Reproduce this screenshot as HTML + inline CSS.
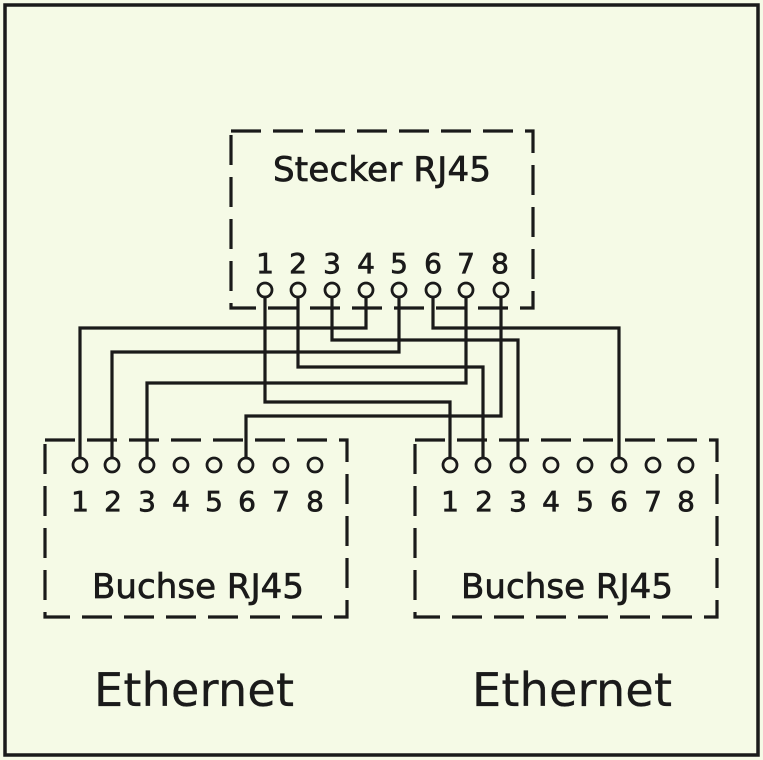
<!DOCTYPE html>
<html><head><style>
html,body{margin:0;padding:0;background:#f5fae6;}
svg{display:block;}
text{font-family:"DejaVu Sans","Liberation Sans",sans-serif;fill:#1a1a1a;stroke:#1a1a1a;stroke-width:0.7;}
</style></head><body>
<svg width="763" height="760" viewBox="0 0 763 760" xmlns="http://www.w3.org/2000/svg">
<rect x="0" y="0" width="763" height="760" fill="#f5fae6"/>
<rect x="5" y="5" width="753" height="750" fill="none" stroke="#1a1a1a" stroke-width="3.5"/>
<g fill="none" stroke="#1a1a1a" stroke-width="3.2" stroke-dasharray="30,12">
<rect x="231" y="131" width="302" height="177"/>
<rect x="45" y="440" width="302" height="177"/>
<rect x="415" y="440" width="302" height="177"/>
</g>
<text x="382" y="181" font-size="34" text-anchor="middle" textLength="218">Stecker RJ45</text>
<text x="198" y="598" font-size="34" text-anchor="middle" textLength="212">Buchse RJ45</text>
<text x="567" y="598" font-size="34" text-anchor="middle" textLength="212">Buchse RJ45</text>
<text x="194" y="706" font-size="46" text-anchor="middle" textLength="200" style="stroke-width:0.3">Ethernet</text>
<text x="572" y="706" font-size="46" text-anchor="middle" textLength="200" style="stroke-width:0.3">Ethernet</text>
<g font-size="28" text-anchor="middle">
<text x="265" y="273">1</text><text x="298" y="273">2</text><text x="332" y="273">3</text><text x="366" y="273">4</text><text x="399" y="273">5</text><text x="433" y="273">6</text><text x="466" y="273">7</text><text x="500" y="273">8</text>
<text x="80" y="511">1</text><text x="113" y="511">2</text><text x="147" y="511">3</text><text x="181" y="511">4</text><text x="214" y="511">5</text><text x="247" y="511">6</text><text x="281" y="511">7</text><text x="315" y="511">8</text>
<text x="450" y="511">1</text><text x="484" y="511">2</text><text x="518" y="511">3</text><text x="551" y="511">4</text><text x="585" y="511">5</text><text x="619" y="511">6</text><text x="653" y="511">7</text><text x="686" y="511">8</text>
</g>
<g fill="none" stroke="#1a1a1a" stroke-width="3.2">
<polyline points="366,297 366,328 80,328 80,458"/>
<polyline points="433,297 433,328 619,328 619,458"/>
<polyline points="332,297 332,340 518,340 518,458"/>
<polyline points="399,297 399,352 112,352 112,458"/>
<polyline points="298,297 298,367 483,367 483,458"/>
<polyline points="466,297 466,383 147,383 147,458"/>
<polyline points="265,297 265,402 450,402 450,458"/>
<polyline points="501,297 501,416 246,416 246,458"/>
</g>
<g fill="#f5fae6" stroke="#1a1a1a" stroke-width="2.8">
<circle cx="265" cy="290" r="7"/><circle cx="298" cy="290" r="7"/><circle cx="332" cy="290" r="7"/><circle cx="366" cy="290" r="7"/><circle cx="399" cy="290" r="7"/><circle cx="433" cy="290" r="7"/><circle cx="466" cy="290" r="7"/><circle cx="501" cy="290" r="7"/>
<circle cx="80" cy="465" r="7"/><circle cx="112" cy="465" r="7"/><circle cx="147" cy="465" r="7"/><circle cx="181" cy="465" r="7"/><circle cx="214" cy="465" r="7"/><circle cx="246" cy="465" r="7"/><circle cx="281" cy="465" r="7"/><circle cx="315" cy="465" r="7"/>
<circle cx="450" cy="465" r="7"/><circle cx="483" cy="465" r="7"/><circle cx="518" cy="465" r="7"/><circle cx="551" cy="465" r="7"/><circle cx="585" cy="465" r="7"/><circle cx="619" cy="465" r="7"/><circle cx="653" cy="465" r="7"/><circle cx="686" cy="465" r="7"/>
</g>
</svg>
</body></html>
